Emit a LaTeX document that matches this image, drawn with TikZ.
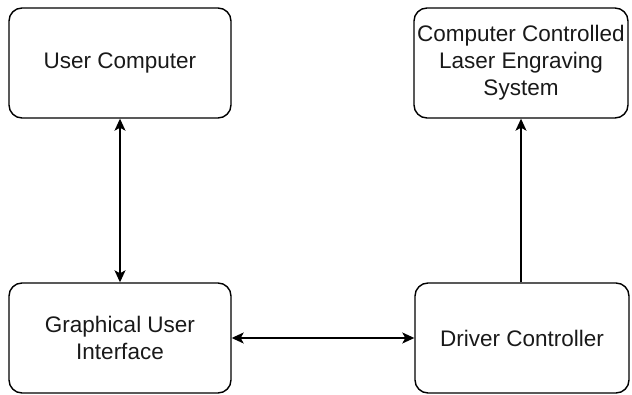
\documentclass[tikz,border=0pt]{standalone}
\usepackage{fontspec}
\setmainfont{Liberation Sans}
\usepackage{tikz}
\usetikzlibrary{calc,shapes,positioning}
\usetikzlibrary{arrows.meta}
\tikzset{>={Stealth[width=11pt,length=12pt,inset=3pt]}}

\begin{document}
\begin{tikzpicture}[x=1pt,y=-1pt]
          \tikzstyle{block} = [draw=black, rectangle, rounded corners = 13pt, minimum width = 222pt, minimum height = 110pt, align=center, inner sep = 2pt, text=black!90, font=\fontsize{22.5}{27}\selectfont, line width=1.4pt]
          \tikzstyle{link} = [line width=1.4pt]
          \useasboundingbox (0,0) rectangle (632,395);

          \node[block] (pc) at (120, 63) {User Computer};
          \node[block, minimum width = 214pt] (laser) at (521, 63) {Computer Controlled\\Laser Engraving\\System};
          \node[block] (gui) at (120, 338) {Graphical User\\Interface};
          \node[block, minimum width = 214pt] (drv) at (522, 338) {Driver Controller};
          \draw[<->, link] (pc) to (gui);
          \draw[<->, link] (gui) to (drv);
          \draw[->, link] (drv.north -| laser.south) to (laser.south);
        \end{tikzpicture}
\end{document}
